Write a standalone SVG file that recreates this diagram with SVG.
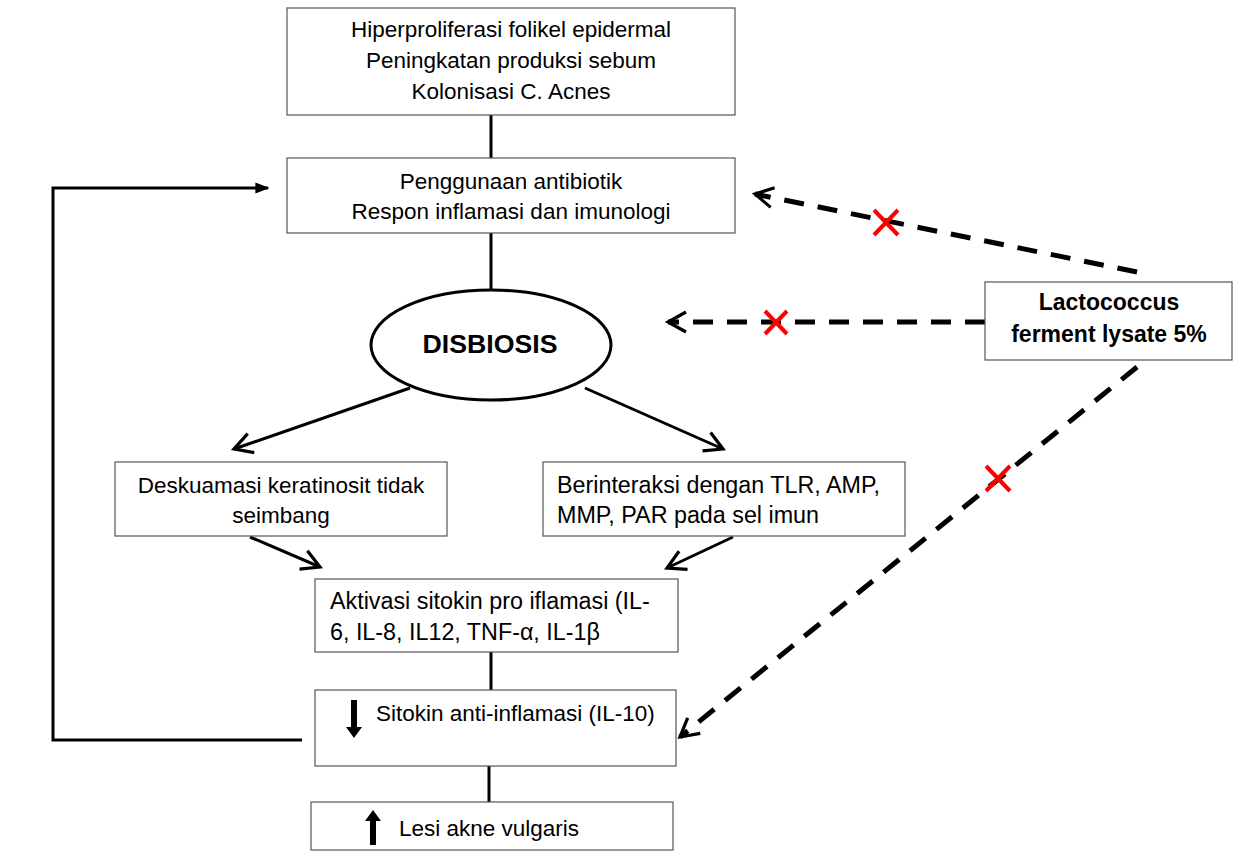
<svg xmlns="http://www.w3.org/2000/svg" width="1252" height="856" viewBox="0 0 1252 856">
<defs>
<style>
.box{fill:#fff;stroke:#555;stroke-width:1.2}
.t{font-family:"Liberation Sans",Arial,sans-serif;font-size:22.5px;fill:#000}
.c{text-anchor:middle}
.b{font-weight:bold}
.ln{stroke:#000;stroke-width:3;fill:none}
.ds{stroke:#000;stroke-width:5;fill:none;stroke-dasharray:20 14}
.x{stroke:#f00;stroke-width:4;fill:none}
</style>
<marker id="ah2" viewBox="0 0 12 12" refX="10" refY="6" markerWidth="24" markerHeight="24" markerUnits="userSpaceOnUse" orient="auto">
<polyline points="1,1 10,6 1,11" fill="none" stroke="#000" stroke-width="1.6"/>
</marker>
<marker id="ahf" viewBox="0 0 10 10" refX="9" refY="5" markerWidth="14" markerHeight="14" markerUnits="userSpaceOnUse" orient="auto">
<path d="M0,1 L10,5 L0,9 Z" fill="#000"/>
</marker>
</defs>
<rect width="1252" height="856" fill="#fff"/>

<g id="connectors">
<line class="ln" x1="491" y1="115" x2="491" y2="158"/>
<line class="ln" x1="491" y1="233" x2="491" y2="290"/>
<line class="ln" x1="410" y1="388" x2="234" y2="449" marker-end="url(#ah2)"/>
<line class="ln" x1="585" y1="388" x2="723" y2="449" marker-end="url(#ah2)"/>
<line class="ln" x1="250" y1="537" x2="320" y2="567" marker-end="url(#ah2)"/>
<line class="ln" x1="733" y1="537" x2="667" y2="568" marker-end="url(#ah2)"/>
<line class="ln" x1="491" y1="652" x2="491" y2="690"/>
<line class="ln" x1="489" y1="766" x2="489" y2="802"/>
<polyline class="ln" points="302,740 53,740 53,188 268,188" stroke-width="3.5" marker-end="url(#ahf)"/>
<line class="ds" x1="1137" y1="272" x2="755" y2="194" marker-end="url(#ah2)"/>
<line class="ds" x1="985" y1="322" x2="668" y2="322" marker-end="url(#ah2)"/>
<line class="ds" x1="1137" y1="367" x2="680" y2="737" marker-end="url(#ah2)"/>
<path class="x" d="M874,210 L898,235 M898,210 L874,235"/>
<path class="x" d="M765,311 L787,334 M787,311 L765,334"/>
<path class="x" d="M986,466 L1010,491 M1010,466 L986,491"/>
</g>

<g id="n1">
<rect class="box" x="287" y="8" width="448" height="107"/>
<text class="t c" x="511" y="37">Hiperproliferasi folikel epidermal</text>
<text class="t c" x="511" y="68">Peningkatan produksi sebum</text>
<text class="t c" x="511" y="99">Kolonisasi C. Acnes</text>
</g>

<g id="n2">
<rect class="box" x="287" y="158" width="448" height="75"/>
<text class="t c" x="511" y="189">Penggunaan antibiotik</text>
<text class="t c" x="511" y="219">Respon inflamasi dan imunologi</text>
</g>

<g id="n3">
<ellipse cx="491" cy="345" rx="120" ry="55" fill="#fff" stroke="#000" stroke-width="3"/>
<text class="t c b" x="490" y="353" style="font-size:26.7px">DISBIOSIS</text>
</g>

<g id="n4">
<rect class="box" x="115" y="462" width="332" height="74"/>
<text class="t c" x="281" y="493">Deskuamasi keratinosit tidak</text>
<text class="t c" x="281" y="523">seimbang</text>
</g>

<g id="n5">
<rect class="box" x="543" y="462" width="362" height="74"/>
<text class="t" x="557" y="493" style="font-size:23.3px">Berinteraksi dengan TLR, AMP,</text>
<text class="t" x="557" y="523" style="font-size:23.3px">MMP, PAR pada sel imun</text>
</g>

<g id="n6">
<rect class="box" x="315" y="579" width="363" height="73"/>
<text class="t" x="330" y="609" style="font-size:23.3px">Aktivasi sitokin pro iflamasi (IL-</text>
<text class="t" x="330" y="640" style="font-size:23.3px">6, IL-8, IL12, TNF-α, IL-1β</text>
</g>

<g id="n7">
<rect class="box" x="315" y="690" width="361" height="76"/>
<path d="M351,700 H357 V727 H362 L354,738 L346,727 H351 Z" fill="#000"/>
<text class="t" x="376" y="721">Sitokin anti-inflamasi (IL-10)</text>
</g>

<g id="n8">
<rect class="box" x="311" y="802" width="362" height="48"/>
<path d="M370,845 H376 V821 H381 L373,810 L365,821 H370 Z" fill="#000"/>
<text class="t" x="399" y="836">Lesi akne vulgaris</text>
</g>

<g id="n9">
<rect class="box" x="985" y="282" width="247" height="78"/>
<text class="t c b" x="1109" y="310" style="font-size:23px">Lactococcus</text>
<text class="t c b" x="1109" y="342" style="font-size:23px">ferment lysate 5%</text>
</g>
</svg>
